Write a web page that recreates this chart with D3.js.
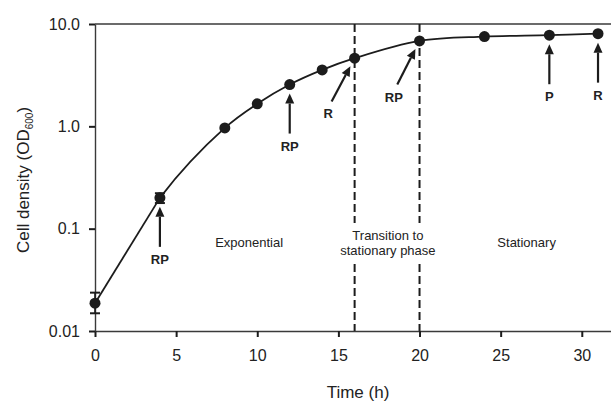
<!DOCTYPE html>
<html>
<head>
<meta charset="utf-8">
<script src="https://cdn.jsdelivr.net/npm/d3@7"></script>
<style>
  body { margin: 0; background: #fff; }
  svg { display: block; font-family: Arial, "Liberation Sans", sans-serif; }
</style>
</head>
<body>
<svg id="chart" width="611" height="401"></svg>
<script>
// growth curve data
var times = [0, 4, 8, 10, 12, 14, 16, 20, 24, 28, 31];
var density = [0.0187, 0.2, 0.965, 1.66, 2.56, 3.56, 4.63, 6.84, 7.53, 7.77, 8.05];
var errLow = [0.0149, 0.178, null, null, null, null, null, null, null, null, null];
var errHigh = [0.0237, 0.222, null, null, null, null, null, null, null, null, null];

var yTicks = [0.01, 0.1, 1, 10];
var yTickLabels = ['0.01', '0.1', '1.0', '10.0'];
var xTicks = [0, 5, 10, 15, 20, 25, 30];

var phaseBreaks = [16, 20];
var phaseNames = [['Exponential'], ['Transition to', 'stationary phase'], ['Stationary']];
var phaseTimes = [9.5, 18.05, 26.6];

var arrowTimes = [4, 12, 16, 20, 28, 31];
var arrowLabels = ['RP', 'RP', 'R', 'RP', 'P', 'R'];
var arrowLean = [0, 0, 28, 27, 0, 0];

(function()
{
    var svg = d3.select('#chart'),
        left = 95, right = 611, top = 24, bottom = 331;

    var x = d3.scaleLinear().domain([0, 31.8]).range([left, right]),
        y = d3.scaleLog().domain([0.01, 10]).range([bottom, top]);

    var ink = '#1c1c1c', axisCol = '#3a3a3a';

    // top border
    svg.append('line')
        .attr('x1', left).attr('x2', right)
        .attr('y1', top).attr('y2', top)
        .attr('stroke', axisCol).attr('stroke-width', 1.4);

    // phase separators
    svg.selectAll('line.phase').data(phaseBreaks).enter().append('line')
        .attr('class', 'phase')
        .attr('x1', function(d) { return x(d); })
        .attr('x2', function(d) { return x(d); })
        .attr('y1', top).attr('y2', bottom)
        .attr('stroke', ink).attr('stroke-width', 2)
        .attr('stroke-dasharray', '8,4');

    // axes
    var xAxis = svg.append('g')
        .attr('transform', 'translate(0,' + bottom + ')')
        .call(d3.axisBottom(x).tickValues(xTicks).tickSize(6).tickSizeOuter(0).tickPadding(13));

    var yAxis = svg.append('g')
        .attr('transform', 'translate(' + left + ',0)')
        .call(d3.axisLeft(y).tickValues(yTicks).tickSize(6).tickSizeOuter(0).tickPadding(9)
            .tickFormat(function(d, i) { return yTickLabels[i]; }));

    [xAxis, yAxis].forEach(function(g)
    {
        g.select('.domain').attr('stroke', axisCol).attr('stroke-width', 1.4);
        g.selectAll('.tick line').attr('stroke', ink).attr('stroke-width', 2);
        g.selectAll('.tick text').attr('fill', '#222').style('font-size', '16px');
    });

    // axis titles
    svg.append('text')
        .attr('x', 358).attr('y', 398)
        .attr('text-anchor', 'middle')
        .style('font-size', '17px').attr('fill', '#222')
        .text('Time (h)');

    var yl = svg.append('text')
        .attr('transform', 'translate(29,180) rotate(-90)')
        .attr('text-anchor', 'middle')
        .style('font-size', '17px').attr('fill', '#222');
    yl.append('tspan').text('Cell density (OD');
    yl.append('tspan').attr('dy', 4).style('font-size', '10px').text('600');
    yl.append('tspan').attr('dy', -4).text(')');

    // phase labels (transition label masks the dashed lines)
    phaseNames.forEach(function(lines, i)
    {
        var g = svg.append('g');
        if (lines.length > 1) {
            g.append('rect')
                .attr('x', x(phaseBreaks[0]) - 6).attr('y', 223)
                .attr('width', x(phaseBreaks[1]) - x(phaseBreaks[0]) + 12).attr('height', 37)
                .attr('fill', '#fff');
        }
        var t = g.append('text')
            .attr('text-anchor', 'middle')
            .style('font-size', '13px').attr('fill', '#222');
        lines.forEach(function(s, j)
        {
            t.append('tspan')
                .attr('x', x(phaseTimes[i]))
                .attr('y', (lines.length > 1 ? 239.5 : 247) + j * 15.5)
                .text(s);
        });
    });

    var pts = times.map(function(t, i) { return [x(t), y(density[i])]; });

    // curve: straight first leg, smooth after
    svg.append('clipPath').attr('id', 'afterFirst')
        .append('rect')
        .attr('x', pts[1][0]).attr('y', 0)
        .attr('width', right - pts[1][0] + 5).attr('height', bottom);

    svg.append('path')
        .attr('d', d3.line()(pts.slice(0, 2)))
        .attr('fill', 'none').attr('stroke', ink).attr('stroke-width', 1.8);

    svg.append('path')
        .attr('d', d3.line().curve(d3.curveCatmullRom.alpha(0.5))(pts))
        .attr('clip-path', 'url(#afterFirst)')
        .attr('fill', 'none').attr('stroke', ink).attr('stroke-width', 1.8);

    // error bars
    times.forEach(function(t, i)
    {
        if (errLow[i] === null) return;
        var cx = x(t);
        svg.append('line')
            .attr('x1', cx).attr('x2', cx)
            .attr('y1', y(errLow[i])).attr('y2', y(errHigh[i]))
            .attr('stroke', ink).attr('stroke-width', 1.6);
        [errLow[i], errHigh[i]].forEach(function(v)
        {
            svg.append('line')
                .attr('x1', cx - 5).attr('x2', cx + 5)
                .attr('y1', y(v)).attr('y2', y(v))
                .attr('stroke', ink).attr('stroke-width', 2);
        });
    });

    // points
    svg.selectAll('circle.pt').data(pts).enter().append('circle')
        .attr('class', 'pt')
        .attr('cx', function(d) { return d[0]; })
        .attr('cy', function(d) { return d[1]; })
        .attr('r', 5.5)
        .attr('fill', ink);

    // sampling arrows
    arrowTimes.forEach(function(t, i)
    {
        var k = times.indexOf(t),
            a = arrowLean[i] * Math.PI / 180,
            ux = -Math.sin(a), uy = Math.cos(a),
            px = x(t), py = y(density[k]),
            tipX = px + ux * 9, tipY = py + uy * 9,
            tailX = tipX + ux * 40, tailY = tipY + uy * 40,
            hl = 10, hw = 4.5,
            bx = tipX + ux * hl, by = tipY + uy * hl;

        svg.append('line')
            .attr('x1', bx).attr('y1', by)
            .attr('x2', tailX).attr('y2', tailY)
            .attr('stroke', ink).attr('stroke-width', 2.2);

        svg.append('path')
            .attr('d', 'M' + tipX + ',' + tipY +
                'L' + (bx - uy * hw) + ',' + (by + ux * hw) +
                'L' + (bx + uy * hw) + ',' + (by - ux * hw) + 'Z')
            .attr('fill', ink);

        svg.append('text')
            .attr('x', tailX - (arrowLean[i] ? 3.4 : 0))
            .attr('y', tailY + 17)
            .attr('text-anchor', 'middle')
            .style('font-size', '13px').style('font-weight', 'bold')
            .attr('fill', '#222')
            .text(arrowLabels[i]);
    });
})();
</script>
</body>
</html>
